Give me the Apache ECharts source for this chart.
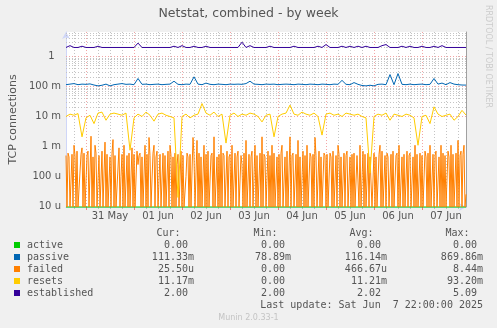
<!DOCTYPE html>
<html><head><meta charset="utf-8">
<script src="https://cdn.jsdelivr.net/npm/echarts@6/dist/echarts.min.js"></script>
<style>html,body{margin:0;padding:0;background:#f0f0f0;}#c{width:497px;height:328px;}</style>
</head><body><div id="c"></div>
<script>
// ---------- DATA ----------
// time axis: half-hour samples since 30 May 14:00 (0..400), last update Sat Jun 7 22:00
const START_HALFHOUR_OF_DAY = 28;
const N_SAMPLES = 401;
const dayLabels = ['31 May','01 Jun','02 Jun','03 Jun','04 Jun','05 Jun','06 Jun','07 Jun'];

// failed (30-minute samples, milli-connections/s)
const failedMilli = [
 0.5,0,0.6,0.45,0,0,0.55,0,1.1,0.5, 0,0.7,0,0,0,0.55,0.9,0,0.6,0,
 // 31 May
 0,0.5,0.7,0,0,2.2,0,0.45,0,1.1, 0.6,0,0,0.5,0,0,0.7,0,0,1.4,
 0,0.55,0,0,0.45,0,0.6,1.7,0,0.5, 0,0,0,0.9,0,0.1,0.55,0,1.1,0,
 0,0.5,0,0.6,0,0,0.9,0,
 // 01 Jun
 0.55,0,0,0.7,0.25,0.5,0.6,0,0.45,0, 0,1.1,0,0.55,0,2.0,0.5,0,0,0.6,
 1.1,0,0.45,0.7,0,0,0.55,0,0,0.6, 0,0.5,0,0,0.7,0,1.1,0.5,0,0.45,
 0,0.6,0,0.25,0.55,0,0,0.7,
 // 02 Jun
 0,0.5,0,0,0.1,0.6,0.45,0,0.55,0, 0,2.0,0.5,0,0,1.6,0,0.6,0,0.45,
 0,0,1.1,0,0.55,0,0.7,0,0,0.5, 0.6,0,2.1,0,0,0.45,0,0.55,0,1.1,
 0,0.6,0.5,0,0,0.7,0,0.45,
 // 03 Jun
 0.55,0,1.1,0,0,0.6,0,0.45,0.7,0, 0,0.5,0.25,0,0.6,0,1.6,0,0,0.55,
 0,0.45,0.7,0,0,1.1,0,0.5,0,0, 0.6,0,2.1,0,0.55,0.45,0,0,0.7,0,
 0.5,0,1.1,0,0.6,0,0,0.45,
 // 04 Jun
 0,0.55,0,0.6,1.1,0,0,0.45,0,0.7, 0,0,2.1,0,0.5,0.6,0,0,0.55,0,
 1.6,0,0.45,0,0,0.7,0,0.5,0,1.1, 0,0,0.6,0.45,0,0.55,0,2.0,0.5,0,
 0,0.7,0,0.45,0,0,0.6,0.5,
 // 05 Jun
 0,0.55,0,0,0.6,0.45,0,0.7,0,0, 0.5,0,1.1,0.55,0,0.45,0,0,0.6,0,
 0.5,0.7,0,0,0.45,0,0.55,0,0.6,0, 0,0.5,0.45,0,1.1,0,0,0.7,0,0.55,
 0,0,0.6,0,0.45,0.5,0,0,
 // 06 Jun
 0.6,0,0.45,0,0,0.55,1.1,0,0.7,0, 0,0.5,0,0.6,0.45,0,0,0.55,0,0.7,
 0,0,0.5,0.6,0,1.1,0,0,0.45,0, 0.55,0,0,0.7,0,0.5,0.6,0,0,0.45,
 0,1.1,0,0.55,0,0,0.6,0,
 // 07 Jun
 0.5,0,0,0.7,0.45,0,0.6,0,1.1,0, 0,0.55,0,0.5,0.7,0,0,0.45,0,1.1,
 0,0.6,0,0.5,0,0,0.7,0.45,0,1.1, 0,0.55,0,0,0.6,0,1.6,0,0.5,0.7,
 0,0.55,1.1,0,0.0255
];

// 2-hourly series (101 samples)
const passive = [
 0.115,0.12,0.125,0.115,0.12,0.118,0.122,0.112,0.105,0.11,
 0.12,0.105,0.115,0.12,0.125,0.118,0.12,0.115,0.185,0.118,
 0.12,0.115,0.118,0.12,0.115,0.118,0.12,0.15,0.118,0.115,
 0.12,0.118,0.21,0.12,0.115,0.13,0.118,0.115,0.12,0.118,
 0.115,0.12,0.118,0.12,0.118,0.125,0.15,0.12,0.118,0.115,
 0.12,0.118,0.12,0.115,0.118,0.12,0.118,0.115,0.12,0.118,
 0.115,0.12,0.118,0.115,0.12,0.118,0.115,0.12,0.118,0.16,
 0.118,0.115,0.135,0.118,0.108,0.105,0.11,0.105,0.118,0.12,
 0.115,0.25,0.115,0.27,0.118,0.115,0.12,0.115,0.118,0.12,
 0.115,0.118,0.185,0.12,0.13,0.115,0.135,0.12,0.115,0.112,
 0.1113
];
const resetsMilli = [
 10,12,11,12.5,2.1,9,11,5.8,13,14,
 7.5,12,13,12,11,13,0.75,9,12,10,
 14,11,7,12,13,11,10,9,0.02,10,
 12,9,11,12,27,13,11,14,10,12,
 1.3,11,13,10,12,11,13,12,10,6.6,
 11,12,2.1,10,12,13,24,12,11,14,
 12,11,13,10,2.4,12,13,11,12,10,
 13,12,11,12,10,9,0.13,10,12,11,
 13,7.5,12,11,10,12,11,9,1.1,10,
 11,5.8,21,12,10,11,12,7.5,10,16,
 11.17
];
const established = [
 2,2.3,2,2,2.2,2,2,2,2.2,2,
 2,2,2,2,2,2,2,2,2.8,2,
 2,2,2,2,2,2,2,2.2,2,2.3,
 2,2,2.2,2,2,2.2,2,2,2,2,
 2,2,2,2,3.0,2,2.3,2,2,2,
 2,2.2,2,2,2,2,2,2.2,2,2,
 2,2,2,2.2,2,2.5,2,2,2,2.2,
 2,2.2,2,2.2,2,2.2,2,2,2,2.3,
 2.5,2,2,2,2.2,2,2.2,2,2,2.2,
 2,2,2.2,2,2.3,2,2,2,2,2,
 2
];
const activeSamples = [0, 400];
const active = [0, 0];

// legend table text
const seriesNames = ['active','passive','failed','resets','established'];
const seriesColors = ['#00CC00','#0066B3','#FF8000','#FFCC00','#330099'];
const statHeaders = ['Cur:','Min:','Avg:','Max:'];
const statCur = ['0.00 ','111.33m','25.50u','11.17m','2.00 '];
const statMin = ['0.00 ','78.89m','0.00 ','0.00 ','2.00 '];
const statAvg = ['0.00 ','116.14m','466.67u','11.21m','2.02 '];
const statMax = ['0.00 ','869.86m','8.44m','93.20m','5.09 '];
const yTickLabels = {'-5':'10 u','-4':'100 u','-3':'1 m','-2':'10 m','-1':'100 m','0':'1  '};

// ---------- CHART ----------
const Y_MIN = Math.pow(10, -5 - 0.5 / 30);
const Y_MAX = Math.pow(10, 24.5 / 30);
const FONT = '"DejaVu Sans", sans-serif';
const MONO = '"DejaVu Sans Mono", monospace';
const TXT = '#555555';
const GRID_GRAY = '#c4c4c4';
const GRID_RED = '#f3a6a6';

const cats = [];
for (let j = 0; j < N_SAMPLES; j++) cats.push(String(j));
const hh = i => (i + START_HALFHOUR_OF_DAY) % 48;
const isSixH = i => hh(i) % 12 === 0 && hh(i) !== 0;
const isMidnight = i => hh(i) === 0;
const isNoon = i => hh(i) === 24;

const floor0 = v => (v > 0 ? v : Y_MIN);
const pts2h = (arr, scale) => arr.map((v, i) => [4 * i, floor0(v * scale)]);

const minorValues = [], decadeValues = [];
for (let e = -6; e <= 0; e++) {
  for (let k = 1; k <= 9; k++) {
    const v = k * Math.pow(10, e);
    if (v <= Y_MIN || v >= Y_MAX) continue;
    (k === 1 ? decadeValues : minorValues).push(v);
  }
}

function line(name, color, data, extra) {
  return Object.assign({
    type: 'line', name, data, xAxisIndex: 0, yAxisIndex: 0,
    symbol: 'none', showSymbol: false, silent: true, animation: false, z: 3,
    lineStyle: { color, width: 1 }, itemStyle: { color }
  }, extra || {});
}

const series = [
  { type: 'line', data: [], silent: true, animation: false, z: 1,
    markLine: { silent: true, symbol: 'none', animation: false, z: 1,
      label: { show: false },
      lineStyle: { color: GRID_GRAY, type: [1, 2], width: 1 },
      data: minorValues.map(v => ({ yAxis: v })) } },
  { type: 'line', data: [], silent: true, animation: false, z: 1,
    markLine: { silent: true, symbol: 'none', animation: false, z: 1,
      label: { show: false },
      lineStyle: { color: GRID_RED, type: [1, 2], width: 1 },
      data: decadeValues.map(v => ({ yAxis: v })) } },
  line('active', seriesColors[0], activeSamples.map((j, i) => [j, floor0(active[i])]), { clip: false }),
  line('passive', seriesColors[1], pts2h(passive, 1)),
  line('failed', seriesColors[2], failedMilli.map((v, j) => [j, floor0(v * 1e-3)])),
  line('resets', seriesColors[3], pts2h(resetsMilli, 1e-3)),
  line('established', seriesColors[4], pts2h(established, 1))
];

// graphic texts
const g = [];
g.push({ type: 'text', x: 248.5, y: 13.5, silent: true,
  style: { text: 'Netstat, combined - by week', fill: TXT, font: '12.5px ' + FONT, align: 'center', verticalAlign: 'middle', textAlign: 'center', textVerticalAlign: 'middle' } });
g.push({ type: 'text', x: 13, y: 119.5, rotation: Math.PI / 2, silent: true,
  style: { text: 'TCP connections', fill: TXT, font: '11px ' + FONT, align: 'center', verticalAlign: 'middle', textAlign: 'center', textVerticalAlign: 'middle' } });
g.push({ type: 'text', x: 488, y: 5, rotation: -Math.PI / 2, silent: true,
  style: { text: 'RRDTOOL / TOBI OETIKER', fill: '#cccccc', font: '8px ' + FONT, align: 'left', verticalAlign: 'middle', textAlign: 'left', textVerticalAlign: 'middle' } });
const headerX = [180.5, 277.5, 373.5, 469.5];
const colX = [194, 291, 387, 483];
const mono = (text, x, y, align, fill) => ({ type: 'text', x, y, silent: true,
  style: { text, fill: fill || TXT, font: '10px ' + MONO, align, verticalAlign: 'middle', textAlign: align, textVerticalAlign: 'middle' } });
statHeaders.forEach((t, i) => g.push(mono(t, headerX[i], 233.5, 'right')));
const cols = [statCur, statMin, statAvg, statMax];
seriesNames.forEach((n, r) => {
  const y = 245.5 + r * 12;
  g.push({ type: 'rect', silent: true, shape: { x: 14, y: y - 3.5, width: 6, height: 6 }, style: { fill: seriesColors[r] } });
  g.push(mono(n, 27, y, 'left'));
  cols.forEach((c, ci) => g.push(mono(c[r], colX[ci], y, 'right')));
});
g.push(mono('Last update: Sat Jun  7 22:00:00 2025', 483, 305.5, 'right'));
g.push({ type: 'text', x: 248.5, y: 317.5, silent: true,
  style: { text: 'Munin 2.0.33-1', fill: '#c4c4c4', font: '8px ' + FONT, align: 'center', verticalAlign: 'middle', textAlign: 'center', textVerticalAlign: 'middle' } });

const option = {
  backgroundColor: '#f0f0f0',
  animation: false,
  grid: { left: 66, right: 31, top: 32, bottom: 121, show: true, backgroundColor: '#ffffff', borderWidth: 0, containLabel: false },
  xAxis: [
    { type: 'category', data: cats, boundaryGap: false, position: 'bottom',
      axisLine: { show: false }, axisLabel: { show: false },
      axisTick: { show: true, interval: isSixH, length: 2, lineStyle: { color: '#c0c0c0' } },
      splitLine: { show: true, interval: isSixH, lineStyle: { color: GRID_GRAY, type: [1, 2], width: 1 } } },
    { type: 'category', data: cats, boundaryGap: false, position: 'bottom',
      axisLine: { show: true, lineStyle: { color: '#CFD6F8', width: 1 }, symbol: ['none', 'arrow'], symbolSize: [6, 7] },
      axisTick: { show: true, interval: isMidnight, length: 3, lineStyle: { color: '#f08080' } },
      axisLabel: { show: true, interval: isNoon, margin: 4, fontSize: 10, color: TXT, fontFamily: FONT,
        formatter: (v, i) => dayLabels[Math.round((i - 44) / 48)] || '' },
      splitLine: { show: true, interval: isMidnight, lineStyle: { color: GRID_RED, type: [1, 2], width: 1 } } }
  ],
  yAxis: [
    { type: 'log', logBase: 10, min: Y_MIN, max: Y_MAX, position: 'left',
      axisLine: { show: true, lineStyle: { color: '#CFD6F8', width: 1 }, symbol: ['none', 'arrow'], symbolSize: [6, 7] },
      axisTick: { show: false },
      axisLabel: { margin: 5, fontSize: 10, color: TXT, fontFamily: FONT,
        formatter: v => { const e = Math.log10(v); const r = Math.round(e);
          return Math.abs(e - r) < 1e-6 && yTickLabels[String(r)] !== undefined ? yTickLabels[String(r)] : ''; } },
      splitLine: { show: false }, minorTick: { show: false }, minorSplitLine: { show: false } },
    { type: 'log', logBase: 10, min: Y_MIN, max: Y_MAX, position: 'right',
      axisLine: { show: true, lineStyle: { color: '#a0a0a0', width: 1 } },
      axisTick: { show: false }, axisLabel: { show: false }, splitLine: { show: false } }
  ],
  series,
  graphic: g
};

const chart = echarts.init(document.getElementById('c'), null, { renderer: 'canvas' });
chart.setOption(option);
</script></body></html>
